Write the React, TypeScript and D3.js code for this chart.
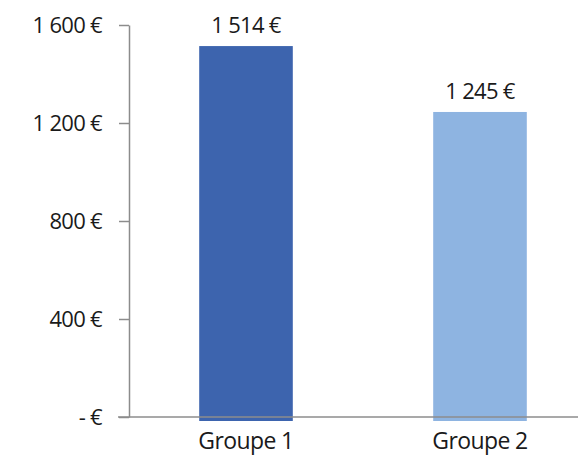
import { useEffect, useRef } from 'react';
import * as d3 from 'd3';

const groupes = ['Groupe 1', 'Groupe 2'];
const montants = [1514, 1245];
const couleurs = ['#3d64ae', '#8eb4e1'];
const yTicks = [0, 400, 800, 1200, 1600];

const formatEuro = (v: number) => {
  if (v === 0) return '- €';
  return d3.format(',')(v).replace(/,/g, ' ') + ' €';
};

const App = () => {
  const svgRef = useRef(null);

  useEffect(() => {
    const width = 578;
    const height = 455;
    const svg = d3.select(svgRef.current);
    svg.selectAll('*').remove();

    const fontFamily = '"Open Sans", "Noto Sans", sans-serif';
    const axisColour = '#8c8c8c';
    const textColour = '#1a1a1a';

    const yScale = d3.scaleLinear().domain([0, 1600]).range([417, 25]);

    const xScale = d3
      .scaleBand()
      .domain(groupes)
      .range([129, 597])
      .paddingInner(0.6)
      .paddingOuter(0.3);

    // bars (they run a little under the baseline)
    svg
      .append('g')
      .selectAll('rect')
      .data(groupes)
      .enter()
      .append('rect')
      .attr('x', (d) => xScale(d))
      .attr('y', (d, i) => yScale(montants[i]))
      .attr('width', xScale.bandwidth())
      .attr('height', (d, i) => yScale(0) - yScale(montants[i]) + 4)
      .attr('fill', (d, i) => couleurs[i]);

    // y axis
    const yAxis = d3
      .axisLeft(yScale)
      .tickValues(yTicks)
      .tickSize(10)
      .tickPadding(17)
      .tickSizeOuter(0)
      .tickFormat((v) => formatEuro(v as number));

    svg
      .append('g')
      .attr('transform', 'translate(129,0)')
      .call(yAxis)
      .call((g) => g.select('.domain').attr('stroke', axisColour).attr('stroke-width', 1.5))
      .call((g) => g.selectAll('.tick line').attr('stroke', axisColour).attr('stroke-width', 1.5))
      .call((g) =>
        g
          .selectAll('.tick text')
          .style('font-family', fontFamily)
          .style('font-size', '22px')
          .style('letter-spacing', '-0.7px')
          .attr('fill', textColour)
      );

    // baseline
    svg
      .append('line')
      .attr('x1', 118)
      .attr('x2', width)
      .attr('y1', yScale(0))
      .attr('y2', yScale(0))
      .attr('stroke', axisColour)
      .attr('stroke-width', 1.5);

    // category labels
    svg
      .append('g')
      .selectAll('text')
      .data(groupes)
      .enter()
      .append('text')
      .attr('x', (d) => xScale(d) + xScale.bandwidth() / 2)
      .attr('y', 449)
      .attr('text-anchor', 'middle')
      .style('font-family', fontFamily)
      .style('font-size', '23px')
      .style('letter-spacing', '-0.6px')
      .attr('fill', textColour)
      .text((d) => d);

    // value labels
    svg
      .append('g')
      .selectAll('text')
      .data(groupes)
      .enter()
      .append('text')
      .attr('x', (d) => xScale(d) + xScale.bandwidth() / 2)
      .attr('y', (d, i) => yScale(montants[i]) - 13)
      .attr('text-anchor', 'middle')
      .style('font-family', fontFamily)
      .style('font-size', '22px')
      .style('letter-spacing', '-0.7px')
      .attr('fill', textColour)
      .text((d, i) => formatEuro(montants[i]));
  }, []);

  return (
    <svg
      ref={svgRef}
      width={578}
      height={455}
      style={{ position: 'absolute', left: 0, top: 0, background: '#fff' }}
    ></svg>
  );
};

export default App;
